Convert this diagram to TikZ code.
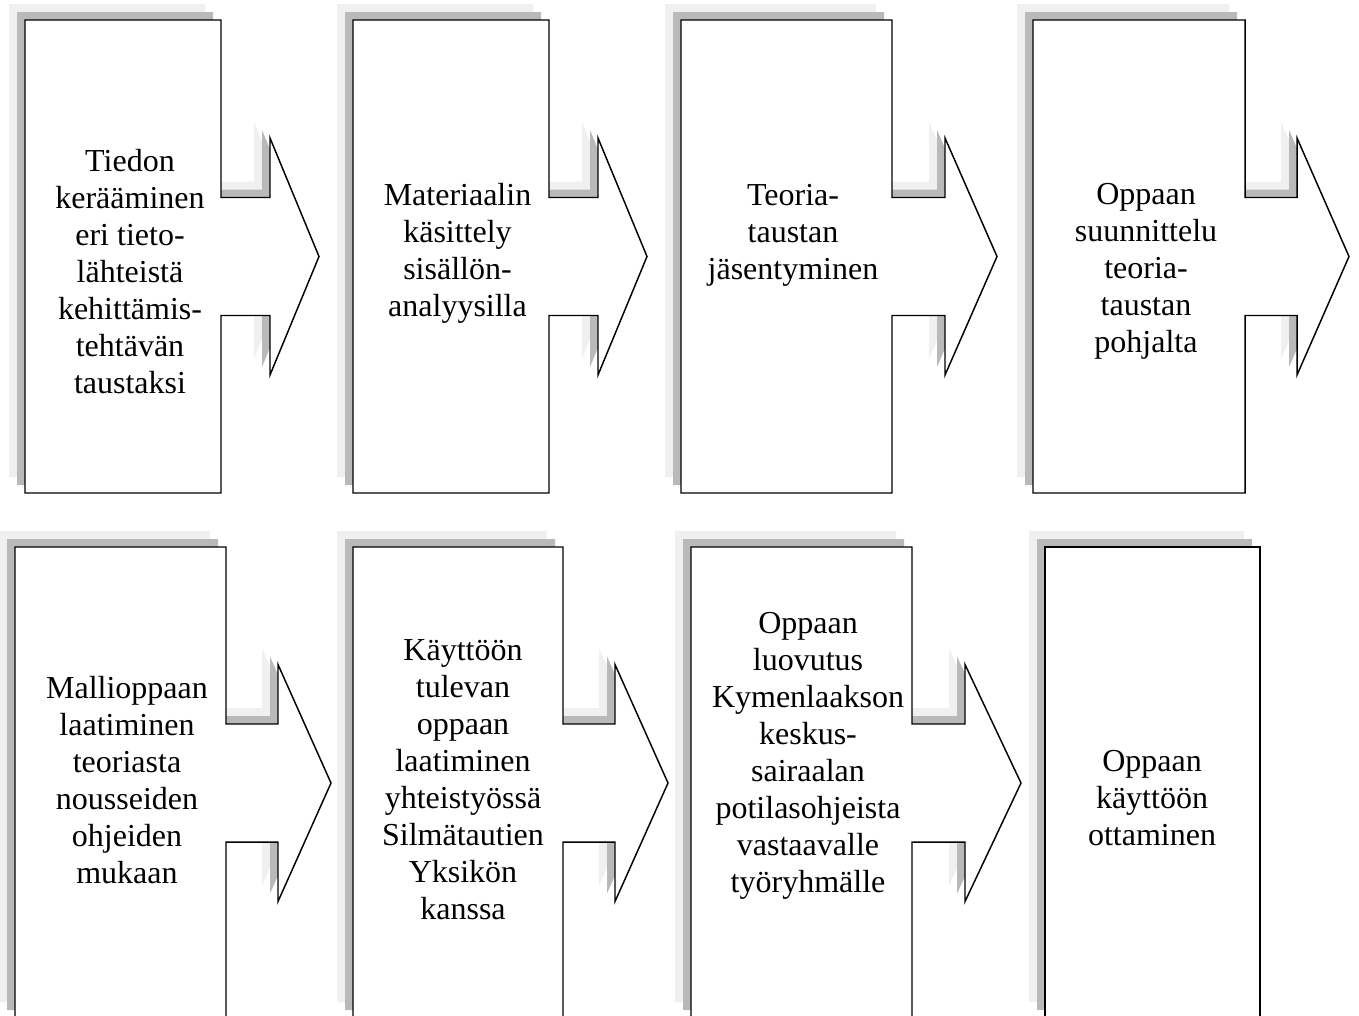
\documentclass[tikz,border=0pt]{standalone}
\usepackage{fontspec}
\setmainfont{Liberation Serif}
\definecolor{shadowlight}{HTML}{F0F0F0}
\definecolor{shadowdark}{HTML}{B9B9B9}
\tikzset{
  shapeline/.style={draw=black, fill=white, line width=1.1pt, line join=miter},
  lbl/.style={align=center, inner sep=0pt, font=\fontsize{24}{27.75}\selectfont},
}
% #1 left, #2 top, #3 box right, #4 bottom, #5 shaft right, #6 tip x, #7 centre y
\newcommand{\callshape}[7]{%
  \fill[shadowlight, shift={(-16,-16)}] (#1,#2) -- (#3,#2) -- (#3,#7-59) -- (#5,#7-59) -- (#5,#7-118.5) -- (#6,#7) -- (#5,#7+118.5) -- (#5,#7+59) -- (#3,#7+59) -- (#3,#4) -- (#1,#4) -- cycle;
  \fill[shadowdark, shift={(-8,-8)}] (#1,#2) -- (#3,#2) -- (#3,#7-59) -- (#5,#7-59) -- (#5,#7-118.5) -- (#6,#7) -- (#5,#7+118.5) -- (#5,#7+59) -- (#3,#7+59) -- (#3,#4) -- (#1,#4) -- cycle;
  \path[shapeline] (#1,#2) -- (#3,#2) -- (#3,#7-59) -- (#5,#7-59) -- (#5,#7-118.5) -- (#6,#7) -- (#5,#7+118.5) -- (#5,#7+59) -- (#3,#7+59) -- (#3,#4) -- (#1,#4) -- cycle;
}
\newcommand{\callrect}[4]{%
  \fill[shadowlight, shift={(-16,-16)}] (#1,#2) rectangle (#3,#4);
  \fill[shadowdark, shift={(-8,-8)}] (#1,#2) rectangle (#3,#4);
  \path[shapeline] (#1,#2) rectangle (#3,#4);
}
\begin{document}
\begin{tikzpicture}[x=0.75pt, y=-0.75pt]
\useasboundingbox (0,0) rectangle (1359,1015);
\fill[white] (0,0) rectangle (1359,1015);

% top row
\callshape{25}{20}{221}{493}{270}{319}{256.5}
\callshape{353}{20}{549}{493}{598}{647}{256.5}
\callshape{681}{20}{892}{493}{945}{997}{256.5}
\callshape{1033}{20}{1245}{493}{1297}{1349}{256.5}

% bottom row
\callshape{15}{547}{226}{1018}{278}{331}{783}
\callshape{353}{547}{563}{1018}{615}{668}{783}
\callshape{691}{547}{912}{1018}{965}{1021}{783}
\callrect{1045}{547}{1260}{1018}

\node[lbl] (t1) at (130,271.5) {Tiedon\\kerääminen\\eri tieto-\\lähteistä\\kehittämis-\\tehtävän\\taustaksi};
\node[lbl] (t2) at (457.5,253) {Materiaalin\\käsittely\\sisällön-\\analyysilla};
\node[lbl] (t3) at (793,235) {Teoria-\\taustan\\jäsentyminen};
\node[lbl] (t4) at (1146,271.5) {Oppaan\\suunnittelu\\teoria-\\taustan\\pohjalta};

\node[lbl] (t5) at (127,780) {Mallioppaan\\laatiminen\\teoriasta\\nousseiden\\ohjeiden\\mukaan};
\node[lbl] (t6) at (463,780) {Käyttöön\\tulevan\\oppaan\\laatiminen\\yhteistyössä\\Silmätautien\\Yksikön\\kanssa};
\node[lbl] (t7) at (808,755.5) {Oppaan\\luovutus\\Kymenlaakson\\keskus-\\sairaalan\\potilasohjeista\\vastaavalle\\työryhmälle};
\node[lbl] (t8) at (1152,798) {Oppaan\\käyttöön\\ottaminen};
\end{tikzpicture}
\end{document}
